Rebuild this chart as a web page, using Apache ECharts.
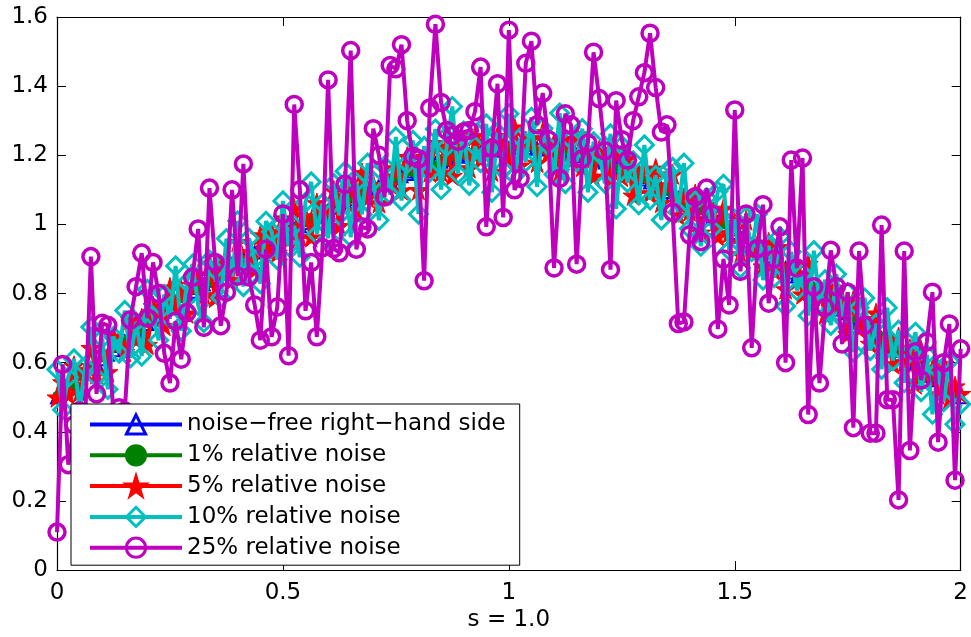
<!DOCTYPE html>
<html>
<head>
<meta charset="utf-8">
<script src="https://cdn.jsdelivr.net/npm/echarts@6/dist/echarts.min.js"></script>
<style>
html,body{margin:0;padding:0;background:#fff;}
#chart{width:971px;height:637px;}
</style>
</head>
<body>
<div id="chart"></div>
<script>
var xs = [
0,0.0125,0.025,0.0375,0.05,0.0625,0.075,0.0875,
0.1,0.1125,0.125,0.1375,0.15,0.1625,0.175,0.1875,
0.2,0.2125,0.225,0.2375,0.25,0.2625,0.275,0.2875,
0.3,0.3125,0.325,0.3375,0.35,0.3625,0.375,0.3875,
0.4,0.4125,0.425,0.4375,0.45,0.4625,0.475,0.4875,
0.5,0.5125,0.525,0.5375,0.55,0.5625,0.575,0.5875,
0.6,0.6125,0.625,0.6375,0.65,0.6625,0.675,0.6875,
0.7,0.7125,0.725,0.7375,0.75,0.7625,0.775,0.7875,
0.8,0.8125,0.825,0.8375,0.85,0.8625,0.875,0.8875,
0.9,0.9125,0.925,0.9375,0.95,0.9625,0.975,0.9875,
1.0,1.0125,1.025,1.0375,1.05,1.0625,1.075,1.0875,
1.1,1.1125,1.125,1.1375,1.15,1.1625,1.175,1.1875,
1.2,1.2125,1.225,1.2375,1.25,1.2625,1.275,1.2875,
1.3,1.3125,1.325,1.3375,1.35,1.3625,1.375,1.3875,
1.4,1.4125,1.425,1.4375,1.45,1.4625,1.475,1.4875,
1.5,1.5125,1.525,1.5375,1.55,1.5625,1.575,1.5875,
1.6,1.6125,1.625,1.6375,1.65,1.6625,1.675,1.6875,
1.7,1.7125,1.725,1.7375,1.75,1.7625,1.775,1.7875,
1.8,1.8125,1.825,1.8375,1.85,1.8625,1.875,1.8875,
1.9,1.9125,1.925,1.9375,1.95,1.9625,1.975,1.9875,
2.0];

var noiseFree = [
0.500,0.514,0.528,0.541,0.555,0.569,0.583,0.597,
0.610,0.623,0.636,0.648,0.661,0.674,0.687,0.699,
0.712,0.724,0.735,0.747,0.758,0.770,0.782,0.793,
0.805,0.816,0.826,0.837,0.848,0.858,0.869,0.879,
0.890,0.900,0.910,0.919,0.929,0.939,0.949,0.958,
0.968,0.977,0.986,0.995,1.004,1.013,1.022,1.031,
1.040,1.048,1.056,1.064,1.073,1.081,1.089,1.097,
1.105,1.112,1.119,1.126,1.133,1.139,1.146,1.153,
1.160,1.166,1.171,1.176,1.181,1.186,1.191,1.196,
1.200,1.203,1.206,1.209,1.211,1.213,1.216,1.218,
1.220,1.221,1.221,1.221,1.220,1.219,1.218,1.217,
1.215,1.212,1.208,1.205,1.201,1.197,1.193,1.189,
1.185,1.179,1.172,1.165,1.158,1.151,1.144,1.137,
1.130,1.121,1.112,1.103,1.094,1.085,1.076,1.067,
1.058,1.048,1.037,1.027,1.017,1.006,0.996,0.985,
0.975,0.964,0.952,0.941,0.930,0.919,0.908,0.896,
0.885,0.873,0.861,0.849,0.838,0.826,0.814,0.802,
0.790,0.778,0.766,0.754,0.743,0.731,0.719,0.707,
0.695,0.683,0.671,0.659,0.646,0.634,0.622,0.610,
0.598,0.586,0.573,0.561,0.549,0.537,0.525,0.512,
0.500];

var noise1 = [
0.505,0.510,0.531,0.536,0.559,0.566,0.588,0.593,
0.614,0.619,0.641,0.645,0.666,0.670,0.692,0.695,
0.717,0.720,0.740,0.743,0.763,0.766,0.787,0.789,
0.810,0.812,0.831,0.833,0.853,0.854,0.874,0.875,
0.895,0.896,0.915,0.915,0.934,0.935,0.954,0.954,
0.973,0.973,0.991,0.991,1.009,1.009,1.027,1.027,
1.045,1.044,1.061,1.060,1.078,1.077,1.094,1.093,
1.110,1.108,1.124,1.122,1.138,1.135,1.151,1.149,
1.165,1.162,1.176,1.172,1.186,1.182,1.196,1.192,
1.205,1.199,1.211,1.205,1.216,1.209,1.221,1.214,
1.225,1.217,1.226,1.217,1.225,1.215,1.223,1.213,
1.220,1.208,1.213,1.201,1.206,1.193,1.198,1.185,
1.190,1.175,1.177,1.161,1.163,1.147,1.149,1.133,
1.135,1.117,1.117,1.099,1.099,1.081,1.081,1.063,
1.063,1.044,1.042,1.023,1.022,1.002,1.001,0.981,
0.980,0.960,0.957,0.937,0.935,0.915,0.913,0.892,
0.890,0.869,0.866,0.845,0.843,0.822,0.819,0.798,
0.795,0.774,0.771,0.750,0.748,0.727,0.724,0.703,
0.700,0.679,0.676,0.655,0.651,0.630,0.627,0.606,
0.603,0.582,0.578,0.557,0.554,0.533,0.530,0.508,
0.504];

var noise5 = [
0.500,0.544,0.508,0.591,0.515,0.579,0.643,0.567,
0.630,0.573,0.676,0.658,0.631,0.724,0.667,0.729,
0.652,0.764,0.745,0.707,0.818,0.760,0.812,0.743,
0.825,0.856,0.796,0.887,0.788,0.878,0.899,0.839,
0.950,0.880,0.920,0.869,0.969,0.929,0.979,0.918,
1.018,0.957,1.046,0.965,1.024,0.963,1.062,1.041,
1.010,1.098,0.996,1.084,1.103,1.041,1.149,1.077,
1.115,1.062,1.159,1.116,1.163,1.099,1.196,1.173,
1.100,1.196,1.151,1.236,1.151,1.226,1.141,1.216,
1.210,1.163,1.256,1.189,1.241,1.153,1.256,1.228,
1.190,1.281,1.171,1.241,1.250,1.179,1.268,1.207,
1.235,1.152,1.248,1.185,1.261,1.167,1.203,1.139,
1.215,1.199,1.132,1.215,1.138,1.191,1.084,1.147,
1.160,1.091,1.162,1.063,1.114,1.145,1.026,1.077,
1.038,1.088,0.977,1.057,1.037,0.966,1.046,0.975,
1.005,0.914,1.012,0.921,0.940,0.879,0.948,0.866,
0.935,0.813,0.881,0.879,0.798,0.886,0.794,0.812,
0.740,0.818,0.756,0.784,0.683,0.781,0.699,0.727,
0.655,0.743,0.641,0.669,0.596,0.674,0.602,0.640,
0.538,0.636,0.563,0.581,0.509,0.597,0.495,0.532,
0.510];

var noise10 = [
0.580,0.464,0.558,0.611,0.465,0.589,0.703,0.557,
0.670,0.523,0.676,0.628,0.751,0.614,0.717,0.619,
0.812,0.734,0.665,0.797,0.728,0.880,0.692,0.833,
0.885,0.766,0.716,0.897,0.868,0.788,0.959,0.849,
1.010,0.820,0.960,0.899,0.829,1.009,0.979,0.898,
1.068,0.937,0.996,0.905,1.064,1.123,0.972,1.061,
0.960,1.118,1.026,1.154,0.963,1.121,1.029,1.177,
1.125,1.012,1.169,1.086,1.253,1.069,1.176,1.243,
1.030,1.226,1.151,1.276,1.101,1.226,1.341,1.146,
1.270,1.113,1.226,1.179,1.291,1.093,1.266,1.158,
1.320,1.141,1.251,1.181,1.310,1.109,1.278,1.227,
1.145,1.322,1.118,1.245,1.181,1.277,1.093,1.239,
1.205,1.119,1.262,1.045,1.228,1.121,1.184,1.057,
1.230,1.071,1.142,1.013,1.154,1.165,1.036,1.177,
0.988,1.068,0.937,1.077,0.987,1.096,1.116,0.925,
1.015,0.874,1.022,0.921,1.030,0.839,0.938,0.846,
0.965,0.763,0.921,0.809,0.858,0.736,0.924,0.772,
0.840,0.708,0.856,0.734,0.803,0.631,0.759,0.787,
0.635,0.713,0.581,0.759,0.606,0.694,0.542,0.630,
0.688,0.516,0.623,0.451,0.579,0.487,0.605,0.422,
0.480];

var noise25 = [
0.110,0.595,0.305,0.420,0.460,0.440,0.907,0.510,
0.714,0.708,0.450,0.470,0.460,0.724,0.820,0.917,
0.729,0.890,0.800,0.627,0.541,0.720,0.610,0.745,
0.847,0.987,0.702,1.105,0.890,0.707,0.804,1.100,
0.850,1.175,0.848,0.767,0.665,0.928,0.675,0.761,
1.030,0.620,1.347,1.100,0.750,0.890,0.675,0.933,
1.418,0.930,0.918,1.116,1.503,0.928,0.993,0.987,
1.277,1.200,1.079,1.460,1.450,1.520,1.300,1.197,
1.190,0.837,1.337,1.579,1.353,1.272,1.257,1.240,
1.267,1.272,1.326,1.455,0.993,1.220,1.407,1.020,
1.562,1.100,1.133,1.466,1.530,1.288,1.380,1.245,
0.874,1.133,1.320,1.288,0.885,1.190,1.235,1.498,
1.364,1.213,0.869,1.358,1.245,1.186,1.300,1.369,
1.439,1.553,1.396,1.267,1.288,1.035,0.713,0.718,
0.970,1.080,0.950,1.105,1.030,0.697,0.900,0.767,
1.331,0.864,1.030,0.643,0.930,1.057,0.772,0.900,
0.993,0.600,1.186,0.874,1.192,0.450,0.820,0.541,
0.760,0.925,0.820,0.654,0.804,0.412,0.923,0.708,
0.396,0.396,0.998,0.493,0.493,0.203,0.923,0.346,
0.632,0.550,0.660,0.804,0.370,0.600,0.712,0.260,
0.640];

var seriesNames = [
'noise\u2212free right\u2212hand side',
'1% relative noise',
'5% relative noise',
'10% relative noise',
'25% relative noise'
];
var xTicks = [0, 0.5, 1, 1.5, 2];
var yTicks = [0, 0.2, 0.4, 0.6, 0.8, 1, 1.2, 1.4, 1.6];

function pairs(ys) { return xs.map(function (x, i) { return [x, ys[i]]; }); }

var FONT = 'DejaVu Sans';
var starPath = 'path://M50,0 L61,35 L98,35 L68,57 L79,91 L50,70 L21,91 L32,57 L2,35 L39,35 Z';

var chart = echarts.init(document.getElementById('chart'), null, {renderer: 'canvas'});

var axisCommon = {
  min: xTicks[0], max: xTicks[xTicks.length - 1], interval: 0.5,
  axisLine: {show: true, onZero: false, lineStyle: {color: '#000', width: 1.2}},
  axisTick: {show: true, inside: true, length: 9, lineStyle: {color: '#000', width: 1}},
  splitLine: {show: false}
};

chart.setOption({
  animation: false,
  backgroundColor: '#fff',
  grid: {left: 57, right: 7, top: 17, bottom: 60, containLabel: false},
  xAxis: [
    Object.assign({}, axisCommon, {
      type: 'value', position: 'bottom',
      name: 's = 1.0', nameLocation: 'middle', nameGap: 38,
      nameTextStyle: {fontFamily: FONT, fontSize: 23, color: '#000'},
      axisLabel: {show: true, margin: 11, fontFamily: FONT, fontSize: 23, color: '#000'}
    }),
    Object.assign({}, axisCommon, {
      type: 'value', position: 'top', axisLabel: {show: false}
    })
  ],
  yAxis: [
    {
      type: 'value', position: 'left', min: yTicks[0], max: yTicks[yTicks.length - 1], interval: 0.2,
      axisLine: {show: true, onZero: false, lineStyle: {color: '#000', width: 1.2}},
      axisTick: {show: true, inside: true, length: 9, lineStyle: {color: '#000', width: 1}},
      splitLine: {show: false},
      axisLabel: {show: true, margin: 9, fontFamily: FONT, fontSize: 23, color: '#000'}
    },
    {
      type: 'value', position: 'right', min: yTicks[0], max: yTicks[yTicks.length - 1], interval: 0.2,
      axisLine: {show: true, onZero: false, lineStyle: {color: '#000', width: 1.2}},
      axisTick: {show: true, inside: true, length: 9, lineStyle: {color: '#000', width: 1}},
      splitLine: {show: false},
      axisLabel: {show: false}
    }
  ],
  legend: {
    orient: 'vertical', left: 71, top: 404, z: 20,
    backgroundColor: '#fff', borderColor: '#000', borderWidth: 1,
    padding: [9, 14, 6, 17], itemGap: 7.8, itemWidth: 92, itemHeight: 24,
    selectedMode: false,
    textStyle: {fontFamily: FONT, fontSize: 23, color: '#000'},
    lineStyle: {width: 4},
    itemStyle: {borderWidth: 3},
    data: seriesNames
  },
  series: [
    {
      name: seriesNames[0], type: 'line', data: pairs(noiseFree), z: 2,
      symbol: 'triangle', symbolSize: 12, showAllSymbol: true,
      lineStyle: {color: '#0000ff', width: 3},
      itemStyle: {color: 'rgba(255,255,255,0)', borderColor: '#0000ff', borderWidth: 2}
    },
    {
      name: seriesNames[1], type: 'line', data: pairs(noise1), z: 3,
      symbol: 'circle', symbolSize: 9, showAllSymbol: true,
      lineStyle: {color: '#008000', width: 4},
      itemStyle: {color: '#008000', borderColor: '#008000', borderWidth: 0}
    },
    {
      name: seriesNames[2], type: 'line', data: pairs(noise5), z: 4,
      symbol: starPath, symbolSize: 20, showAllSymbol: true,
      lineStyle: {color: '#ff0000', width: 4},
      itemStyle: {color: '#ff0000', borderColor: '#ff0000', borderWidth: 1}
    },
    {
      name: seriesNames[3], type: 'line', data: pairs(noise10), z: 5,
      symbol: 'diamond', symbolSize: 18, showAllSymbol: true,
      lineStyle: {color: '#00bfbf', width: 4},
      itemStyle: {color: 'rgba(255,255,255,0)', borderColor: '#00bfbf', borderWidth: 3}
    },
    {
      name: seriesNames[4], type: 'line', data: pairs(noise25), z: 6,
      symbol: 'circle', symbolSize: 16, showAllSymbol: true,
      lineStyle: {color: '#bf00bf', width: 4},
      itemStyle: {color: 'rgba(255,255,255,0)', borderColor: '#bf00bf', borderWidth: 3.5}
    }
  ]
});
</script>
</body>
</html>
